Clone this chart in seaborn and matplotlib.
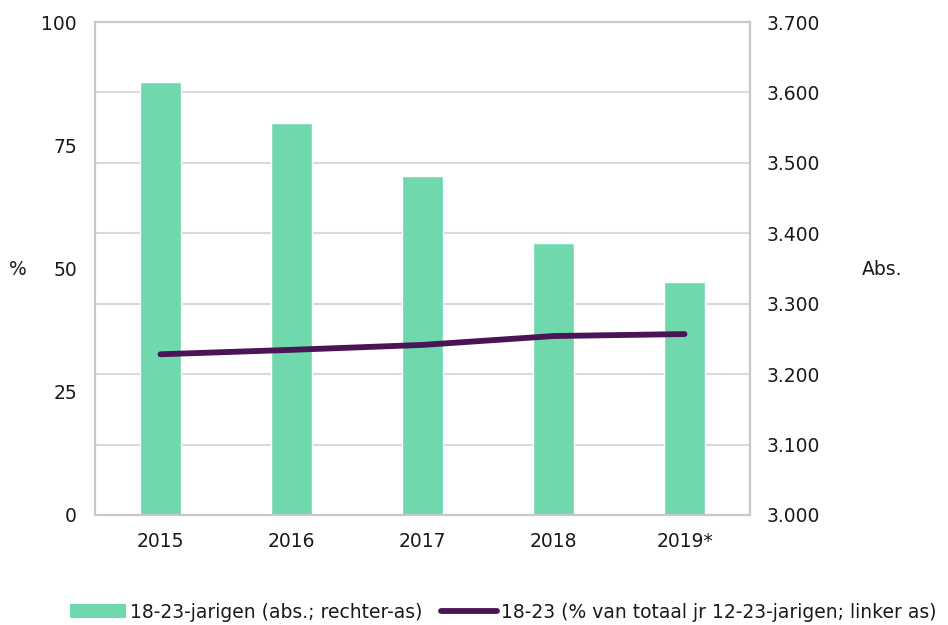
import matplotlib
matplotlib.use("Agg")
import matplotlib.pyplot as plt
import seaborn as sns
import pandas as pd
from matplotlib.patches import Patch
from matplotlib.lines import Line2D

years = ["2015", "2016", "2017", "2018", "2019*"]
abs_values = [3615, 3556, 3481, 3386, 3331]
pct_values = [32.6, 33.5, 34.5, 36.3, 36.7]
left_ticks = [0, 25, 50, 75, 100]
right_ticks = [3000, 3100, 3200, 3300, 3400, 3500, 3600, 3700]
right_labels = ["3.000", "3.100", "3.200", "3.300", "3.400", "3.500", "3.600", "3.700"]
bar_label = "18-23-jarigen (abs.; rechter-as)"
line_label = "18-23 (% van totaal jr 12-23-jarigen; linker as)"

bar_color = "#6FD8AD"
line_color = "#4A1457"
grid_color = "#D9D9D9"
spine_color = "#C8C8C8"
text_color = "#1A1A1A"
fs = 13.5

sns.set_theme(style="white")
plt.rcParams["font.family"] = ["DejaVu Sans"]

df = pd.DataFrame({"year": years, "abs": abs_values, "pct": pct_values})

fig = plt.figure(figsize=(9.48, 6.25), dpi=100)
ax = fig.add_axes([95 / 948, 110 / 625, 655 / 948, 493 / 625])
ax2 = ax.twinx()

sns.barplot(data=df, x="year", y="abs", ax=ax2, color=bar_color, width=0.32,
            saturation=1, zorder=2)
sns.lineplot(data=df, x="year", y="pct", ax=ax, color=line_color, linewidth=4.2,
             solid_capstyle="round", zorder=3)

ax.set_zorder(ax2.get_zorder() + 1)
ax.patch.set_visible(False)

ax.set_xlim(-0.5, 4.5)
ax.set_ylim(0, 100)
ax2.set_ylim(3000, 3700)
ax.set_yticks(left_ticks)
ax.set_yticklabels([str(t) for t in left_ticks])
ax2.set_yticks(right_ticks)
ax2.set_yticklabels(right_labels)

ax2.yaxis.grid(True, color=grid_color, linewidth=1.5)
ax2.set_axisbelow(True)
ax.grid(False)
ax.xaxis.grid(False)
ax2.xaxis.grid(False)

for a in (ax, ax2):
    for s in a.spines.values():
        s.set_color(spine_color)
        s.set_linewidth(1.5)
        s.set_visible(True)

ax.tick_params(axis="y", length=0, pad=13, labelsize=fs, labelcolor=text_color)
ax2.tick_params(axis="y", length=0, pad=12, labelsize=fs, labelcolor=text_color)
ax.tick_params(axis="x", length=0, pad=12, labelsize=fs, labelcolor=text_color)

ax.set_xlabel("")
ax.set_ylabel("")
ax2.set_ylabel("")
ax2.set_xlabel("")

fig.text(18 / 948, 1 - 270 / 625, "%", ha="center", va="center", fontsize=fs, color=text_color)
fig.text(882 / 948, 1 - 270 / 625, "Abs.", ha="center", va="center", fontsize=fs, color=text_color)

handles = [Patch(facecolor=bar_color, edgecolor="none", label=bar_label),
           Line2D([0], [0], color=line_color, linewidth=4.2, solid_capstyle="round", label=line_label)]
fig.legend(handles=handles, loc="center", bbox_to_anchor=(503 / 948, 1 - 612 / 625), ncol=2,
           frameon=False, fontsize=fs, handlelength=3.0, handletextpad=0.2,
           columnspacing=1.0, labelcolor=text_color, borderpad=0, borderaxespad=0)

fig.savefig("out.png", dpi=100)
